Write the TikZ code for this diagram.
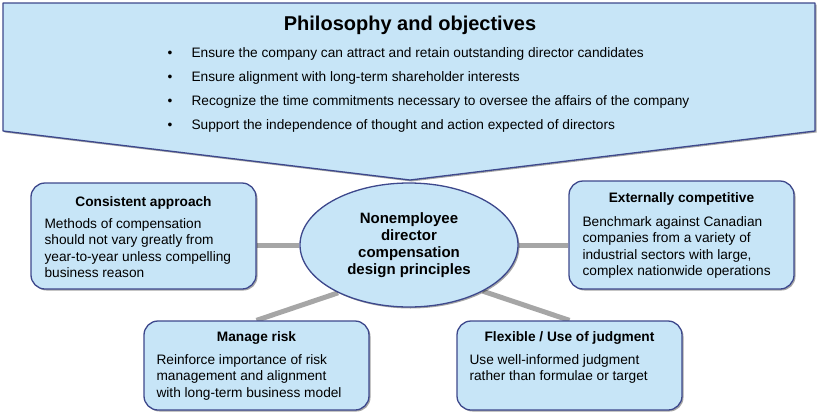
\documentclass[tikz,border=0pt]{standalone}
\usepackage{fontspec}
\setmainfont{Liberation Sans}
\usetikzlibrary{positioning,shapes.geometric,shadows,backgrounds}

\definecolor{paleblue}{RGB}{199,229,247}
\definecolor{navyline}{RGB}{61,72,140}
\definecolor{linkgray}{RGB}{166,166,166}

\newcommand\headsize{\fontsize{20}{24}\selectfont}
\newcommand\hubsize{\fontsize{15}{17}\selectfont}
\newcommand\txtsize{\fontsize{13.7}{16.5}\selectfont}

\begin{document}
\begin{tikzpicture}[x=1pt,y=-1pt,
	softshadow/.style={drop shadow={shadow xshift=1.5pt,shadow yshift=-1.5pt,opacity=0.35,fill=black}},
	banner/.style={draw=navyline,line width=1.3pt,fill=paleblue,line join=round,softshadow},
	box/.style={draw=navyline,line width=1.3pt,fill=paleblue,rounded corners=14pt,minimum width=225pt,inner sep=0pt,softshadow},
	hubnode/.style={ellipse,draw=navyline,line width=1.3pt,fill=paleblue,minimum width=218pt,minimum height=124pt,inner sep=0pt,align=center,font=\hubsize\bfseries,softshadow},
	boxtitle/.style={font=\txtsize\bfseries,inner sep=0pt},
	boxtext/.style={font=\txtsize,align=left,inner sep=0pt},
	link/.style={draw=linkgray,line width=5pt}]
	\useasboundingbox (0,0) rectangle (820,418);

	% Philosophy banner
	\draw[banner] (3,3) -- (815,3) -- (815,131) -- (410,180) -- (3,131) -- cycle;
	\node[font=\headsize\bfseries] (phil) at (410,25) {Philosophy and objectives};
	\foreach \t [count=\i] in {Ensure the company can attract and retain outstanding director candidates,
		Ensure alignment with long-term shareholder interests,
		Recognize the time commitments necessary to oversee the affairs of the company,
		Support the independence of thought and action expected of directors} {
		\node[font=\txtsize,anchor=base] (dot\i) at (170,33+24*\i) {\textbullet};
		\node[font=\txtsize,anchor=base west] (aim\i) at (188,33+24*\i) {\t};
	}

	% centre
	\node[hubnode] (hub) at (409,245) {Nonemployee\\director\\compensation\\design principles};

	% principles
	\node[box,minimum height=106pt] (cons) at (143.5,236) {};
	\node[boxtitle,anchor=base] (consT) at ([shift={(0,24)}]cons.north) {Consistent approach};
	\node[boxtext,anchor=north west] (consB) at ([shift={(14,36)}]cons.north west)
		{Methods of compensation\\should not vary greatly from\\year-to-year unless compelling\\business reason};

	\node[box,minimum height=108pt] (ext) at (681.5,235) {};
	\node[boxtitle,anchor=base] (extT) at ([shift={(0,22)}]ext.north) {Externally competitive};
	\node[boxtext,anchor=north west] (extB) at ([shift={(14,36)}]ext.north west)
		{Benchmark against Canadian\\companies from a variety of\\industrial sectors with large,\\complex nationwide operations};

	\node[box,minimum height=89pt] (risk) at (256.5,365.5) {};
	\node[boxtitle,anchor=base] (riskT) at ([shift={(0,21)}]risk.north) {Manage risk};
	\node[boxtext,anchor=north west] (riskB) at ([shift={(13,34)}]risk.north west)
		{Reinforce importance of risk\\management and alignment\\with long-term business model};

	\node[box,minimum height=89pt] (flex) at (569.5,365.5) {};
	\node[boxtitle,anchor=base] (flexT) at ([shift={(0,21)}]flex.north) {Flexible / Use of judgment};
	\node[boxtext,anchor=north west] (flexB) at ([shift={(13,34)}]flex.north west)
		{Use well-informed judgment\\rather than formulae or target};

	% links
	\begin{scope}[on background layer]
		\draw[link] (hub.west) -- (hub.west -| cons.east);
		\draw[link] (hub.east) -- (hub.east -| ext.west);
		\draw[link] (risk.north) -- (hub.214);
		\draw[link] (flex.north) -- (hub.328);
	\end{scope}
\end{tikzpicture}
\end{document}
